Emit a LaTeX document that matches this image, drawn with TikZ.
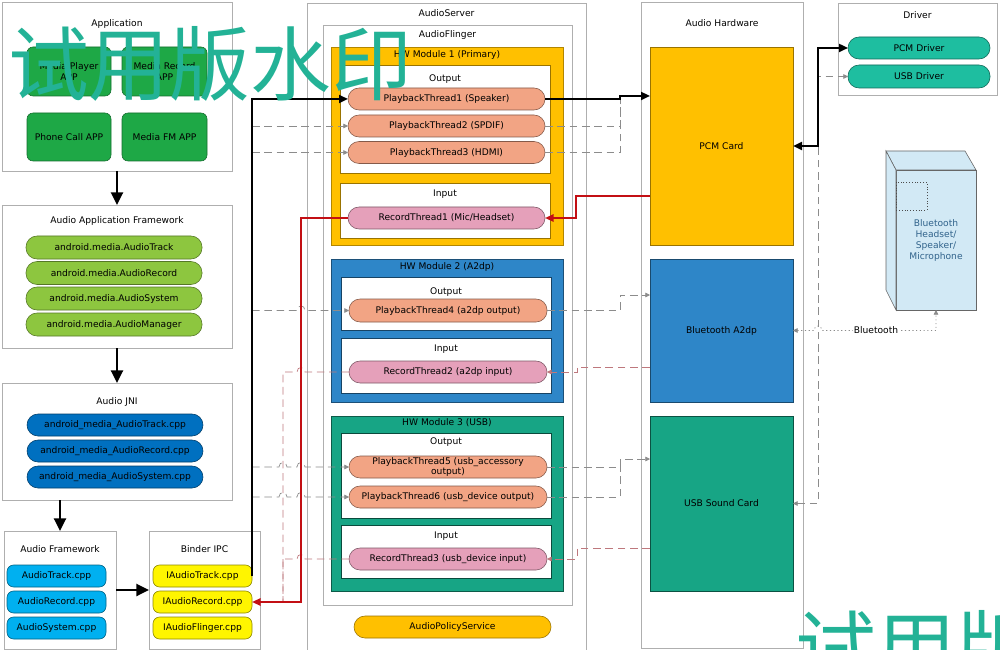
\documentclass[tikz,border=0pt]{standalone}
\usepackage{fontspec}
\setmainfont{DejaVu Sans}
\newfontfamily\cjkfont{Noto Sans CJK SC}
\usetikzlibrary{arrows.meta}

\definecolor{appgreen}{RGB}{30,168,70}
\definecolor{aafgreen}{RGB}{141,198,63}
\definecolor{jniblue}{RGB}{0,112,192}
\definecolor{afcyan}{RGB}{0,176,240}
\definecolor{binderyel}{RGB}{255,245,0}
\definecolor{hworange}{RGB}{255,192,0}
\definecolor{hwblue}{RGB}{46,134,200}
\definecolor{hwteal}{RGB}{23,165,133}
\definecolor{ptsalmon}{RGB}{242,164,132}
\definecolor{rtpink}{RGB}{229,160,186}
\definecolor{drvteal}{RGB}{30,190,160}
\definecolor{btface}{RGB}{210,233,245}
\definecolor{bttext}{RGB}{50,100,140}
\definecolor{boxgrey}{RGB}{175,175,175}
\definecolor{dashgrey}{RGB}{140,140,140}
\definecolor{recred}{RGB}{195,15,20}
\definecolor{recdash}{RGB}{190,120,125}
\definecolor{wmteal}{RGB}{35,178,150}

% line hops (left to right / right to left)
\newcommand{\hop}[2]{-- (#1-4,#2) .. controls (#1-4,#2-6) and (#1+4,#2-6) .. (#1+4,#2)}
\newcommand{\poh}[2]{-- (#1+4,#2) .. controls (#1+4,#2-6) and (#1-4,#2-6) .. (#1-4,#2)}

\begin{document}
\begin{tikzpicture}[x=0.03cm, y=-0.03cm,
    every node/.style={font=\fontsize{7.8}{9.4}\selectfont, inner sep=0pt, outer sep=0pt, align=center}]

    \path[use as bounding box, clip] (0,0) rectangle (1000,650);

    % Styles
    \tikzset{sz/.style 2 args={minimum width=#1*0.03cm, minimum height=#2*0.03cm}}
    \tikzstyle{cont_box} = [draw=boxgrey, line width=0.5pt, fill=white]
    \tikzstyle{app_btn} = [fill=appgreen, draw=appgreen!65!black, rounded corners=0.18cm, line width=0.5pt]
    \tikzstyle{pill} = [rounded corners=0.33cm, line width=0.5pt]
    \tikzstyle{cpp_pill} = [rounded corners=0.2cm, line width=0.5pt]
    \tikzstyle{hw_mod} = [line width=0.6pt]
    \tikzstyle{hw_card} = [line width=0.5pt]
    \tikzstyle{main_line} = [line width=2pt, black]
    \tikzstyle{down_arrow} = [line width=2pt, black, -{Triangle[length=0.38cm, width=0.36cm]}]
    \tikzstyle{rec_line} = [line width=1.6pt, recred]
    \tikzstyle{grey_dash} = [line width=0.6pt, dashgrey, dash pattern=on 6.5pt off 4pt]
    \tikzstyle{rec_dash} = [line width=0.6pt, recdash, dash pattern=on 6.5pt off 4pt]
    \tikzstyle{bt_dot} = [line width=0.6pt, dashgrey, dash pattern=on 1pt off 2.2pt]
    \tikzstyle{bt_face} = [fill=btface, draw=black!60, line width=0.5pt]
    \tikzstyle{watermark} = [font=\cjkfont\fontsize{69}{69}\selectfont, text=wmteal, anchor=west]
    \tikzset{bigtip/.tip={Triangle[length=0.27cm, width=0.24cm]},
             redtip/.tip={Triangle[length=0.26cm, width=0.22cm]},
             smalltip/.tip={Triangle[length=0.14cm, width=0.14cm]}}

    % Application
    \node[cont_box, sz={230}{169}] (app) at (117,86.5) {};
    \node (appT) at (117,24) {Application};
    \node[app_btn, sz={84}{49}] (mplayer) at (69,71.5) {Media Player\\APP};
    \node[app_btn, sz={85}{49}] (mrecord) at (164.5,71.5) {Media Record\\APP};
    \node[app_btn, sz={84}{48}] (phone) at (69,137) {Phone Call APP};
    \node[app_btn, sz={85}{48}] (fm) at (164.5,137) {Media FM APP};

    % Audio Application Framework
    \node[cont_box, sz={230}{143}] (aaf) at (117,276.5) {};
    \node (aafT) at (117,221) {Audio Application Framework};
    \node[pill, fill=aafgreen, draw=aafgreen!60!black, sz={176}{23}] (track) at (114,247.5) {android.media.AudioTrack};
    \node[pill, fill=aafgreen, draw=aafgreen!60!black, sz={176}{23}] (record) at (114,273) {android.media.AudioRecord};
    \node[pill, fill=aafgreen, draw=aafgreen!60!black, sz={176}{23}] (system) at (114,298.5) {android.media.AudioSystem};
    \node[pill, fill=aafgreen, draw=aafgreen!60!black, sz={176}{23}] (manager) at (114,324.5) {android.media.AudioManager};

    % Audio JNI
    \node[cont_box, sz={230}{117}] (jni) at (117,441.5) {};
    \node (jniT) at (117,402) {Audio JNI};
    \node[pill, fill=jniblue, draw=jniblue!55!black, sz={176}{22}] (jtrack) at (115,425) {android\_media\_AudioTrack.cpp};
    \node[pill, fill=jniblue, draw=jniblue!55!black, sz={176}{22}] (jrecord) at (115,451) {android\_media\_AudioRecord.cpp};
    \node[pill, fill=jniblue, draw=jniblue!55!black, sz={176}{22}] (jsystem) at (115,477) {android\_media\_AudioSystem.cpp};

    % Audio Framework and Binder IPC
    \node[cont_box, sz={112}{118}] (af) at (60,590) {};
    \node (afT) at (60,549) {Audio Framework};
    \node[cpp_pill, fill=afcyan, draw=afcyan!55!black, sz={99}{22}] (atrack) at (56.5,576) {AudioTrack.cpp};
    \node[cpp_pill, fill=afcyan, draw=afcyan!55!black, sz={99}{22}] (arecord) at (56.5,602) {AudioRecord.cpp};
    \node[cpp_pill, fill=afcyan, draw=afcyan!55!black, sz={99}{22}] (asystem) at (56.5,628) {AudioSystem.cpp};
    \node[cont_box, sz={111}{118}] (binder) at (204.5,590) {};
    \node (binderT) at (204.5,549) {Binder IPC};
    \node[cpp_pill, fill=binderyel, draw=binderyel!55!black, sz={99}{22}] (bat) at (202.5,576) {IAudioTrack.cpp};
    \node[cpp_pill, fill=binderyel, draw=binderyel!55!black, sz={99}{22}] (bar) at (202.5,602) {IAudioRecord.cpp};
    \node[cpp_pill, fill=binderyel, draw=binderyel!55!black, sz={99}{22}] (baf) at (202.5,628) {IAudioFlinger.cpp};

    % AudioServer / AudioFlinger
    \node[cont_box, sz={279}{657}] (server) at (446.5,331.5) {};
    \node (serverT) at (446.5,13) {AudioServer};
    \node[cont_box, sz={249}{580}] (flinger) at (447.5,315) {};
    \node (flingerT) at (447.5,35) {AudioFlinger};

    % HW Module 1
    \node[hw_mod, fill=hworange, draw=hworange!70!black, sz={232}{198}] (hw1) at (447,146) {};
    \node (hw1T) at (447,55) {HW Module 1 (Primary)};
    \node[cont_box, draw=hworange!60!black, sz={210}{108}] (out1) at (445,119) {};
    \node (out1T) at (445,79) {Output};
    \node[pill, fill=ptsalmon, draw=ptsalmon!55!black, sz={197}{22}] (pt1) at (446.5,99) {PlaybackThread1 (Speaker)};
    \node[pill, fill=ptsalmon, draw=ptsalmon!55!black, sz={197}{22}] (pt2) at (446.5,126) {PlaybackThread2 (SPDIF)};
    \node[pill, fill=ptsalmon, draw=ptsalmon!55!black, sz={197}{22}] (pt3) at (446.5,152.5) {PlaybackThread3 (HDMI)};
    \node[cont_box, draw=hworange!60!black, sz={210}{55}] (in1) at (445,210.5) {};
    \node (in1T) at (445,194) {Input};
    \node[pill, fill=rtpink, draw=rtpink!55!black, sz={197}{22}] (rt1) at (446.5,218) {RecordThread1 (Mic/Headset)};

    % HW Module 2
    \node[hw_mod, fill=hwblue, draw=hwblue!60!black, sz={232}{143}] (hw2) at (447,330.5) {};
    \node (hw2T) at (447,267) {HW Module 2 (A2dp)};
    \node[cont_box, draw=hwblue!50!black, sz={210}{53}] (out2) at (446,303.5) {};
    \node (out2T) at (446,292) {Output};
    \node[pill, fill=ptsalmon, draw=ptsalmon!55!black, sz={198}{23}] (pt4) at (448,310.5) {PlaybackThread4 (a2dp output)};
    \node[cont_box, draw=hwblue!50!black, sz={210}{55}] (in2) at (446,365.5) {};
    \node (in2T) at (446,349) {Input};
    \node[pill, fill=rtpink, draw=rtpink!55!black, sz={198}{22}] (rt2) at (448,372) {RecordThread2 (a2dp input)};

    % HW Module 3
    \node[hw_mod, fill=hwteal, draw=hwteal!55!black, sz={232}{175}] (hw3) at (447,503.5) {};
    \node (hw3T) at (447,423) {HW Module 3 (USB)};
    \node[cont_box, draw=hwteal!45!black, sz={210}{85}] (out3) at (446,475.5) {};
    \node (out3T) at (446,442) {Output};
    \node[pill, fill=ptsalmon, draw=ptsalmon!55!black, sz={198}{22}, font=\fontsize{7.8}{8.4}\selectfont] (pt5) at (448,467) {PlaybackThread5 (usb\_accessory\\output)};
    \node[pill, fill=ptsalmon, draw=ptsalmon!55!black, sz={198}{22}] (pt6) at (448,497) {PlaybackThread6 (usb\_device output)};
    \node[cont_box, draw=hwteal!45!black, sz={210}{53}] (in3) at (446,551.5) {};
    \node (in3T) at (446,536) {Input};
    \node[pill, fill=rtpink, draw=rtpink!55!black, sz={198}{22}] (rt3) at (448,559) {RecordThread3 (usb\_device input)};

    \node[pill, fill=hworange, draw=hworange!60!black, sz={197}{22}] (aps) at (452.5,627) {AudioPolicyService};

    % Audio Hardware
    \node[cont_box, sz={162}{646}] (hwbox) at (722,325) {};
    \node (hwboxT) at (722,23) {Audio Hardware};
    \node[hw_card, fill=hworange, draw=hworange!60!black, sz={143}{198}] (pcm) at (721.5,146) {PCM Card};
    \node[hw_card, fill=hwblue, draw=hwblue!55!black, sz={143}{143}] (bta2dp) at (721.5,330.5) {Bluetooth A2dp};
    \node[hw_card, fill=hwteal, draw=hwteal!50!black, sz={143}{175}] (usbcard) at (721.5,503.5) {USB Sound Card};

    % Driver
    \node[cont_box, sz={159}{92}] (drv) at (917.5,49) {};
    \node (drvT) at (917.5,15) {Driver};
    \node[pill, fill=drvteal, draw=drvteal!55!black, sz={142}{22}] (pcmdrv) at (919,48) {PCM Driver};
    \node[pill, fill=drvteal, draw=drvteal!55!black, sz={142}{23}] (usbdrv) at (919,76.5) {USB Driver};

    % Bluetooth device
    \node[bt_face, sz={80}{140}] (btdev) at (936,240) {};
    \draw[bt_face] (btdev.north west) -- ++(-10,-19) -- ++(79,0) -- (btdev.north east) -- cycle;
    \draw[bt_face] (btdev.north west) -- ++(-10,-19) -- ++(0,139) -- (btdev.south west) -- cycle;
    \draw[black!70, line width=0.5pt, dash pattern=on 0.8pt off 1.6pt] (btdev.north west) ++(0,12) rectangle ++(31,28);
    \node[text=bttext] (btTxt) at (btdev.center) {Bluetooth\\Headset/\\Speaker/\\Microphone};

    % Left stack arrows
    \draw[down_arrow] (app) -- (aaf);
    \draw[down_arrow] (aaf) -- (jni);
    \draw[down_arrow] (af.north |- jni.south) -- (af);
    \draw[down_arrow] (af) -- (binder);

    % Playback paths
    \coordinate (jPcm) at (620,96);
    \draw[grey_dash, -smalltip] (bat.east |- pt2.west) -- (pt2.west);
    \draw[grey_dash, -smalltip] (bat.east |- pt3.west) -- (pt3.west);
    \draw[grey_dash] (pt2.east) -| (jPcm |- pt1.east);
    \draw[grey_dash] (pt3.east) -| (jPcm |- pt1.east);
    \draw[grey_dash, -smalltip] (bat.east |- pt4.west) \hop{301}{310.5} -- (pt4.west);
    \draw[grey_dash, -smalltip] (bat.east |- pt5.west) \hop{283}{467} \hop{301}{467} -- (pt5.west);
    \draw[grey_dash, -smalltip] (bat.east |- pt6.west) \hop{283}{497} \hop{301}{497} -- (pt6.west);
    \coordinate (jBt) at (620,295);
    \draw[grey_dash, -smalltip] (pt4.east) -| (jBt) -- (jBt -| bta2dp.west);
    \coordinate (jUsb) at (620,459);
    \draw[grey_dash, -smalltip] (pt5.east) -| (jUsb) -- (jUsb -| usbcard.west);
    \draw[grey_dash] (pt6.east) -| (jUsb);
    \draw[main_line, -bigtip] (bat.east) |- (pt1.west);
    \draw[main_line, -bigtip] (pt1.east) -| (jPcm) -- (jPcm -| pcm.west);

    % Record paths
    \coordinate (jRecL) at (283,602);
    \draw[rec_dash] (rt2.west) \poh{301}{372} -| (jRecL);
    \draw[rec_dash] (rt3.west) \poh{301}{559} -| (jRecL);
    \coordinate (jBtIn) at (577,367);
    \draw[rec_dash, -smalltip] (jBtIn -| bta2dp.west) -- (jBtIn) |- (rt2.east);
    \coordinate (jUsbIn) at (577,548);
    \draw[rec_dash, -smalltip] (jUsbIn -| usbcard.west) -- (jUsbIn) |- (rt3.east);
    \coordinate (jRec) at (576,196);
    \draw[rec_line, -redtip] (jRec -| pcm.west) -- (jRec) |- (rt1.east);
    \draw[rec_line, -redtip] (rt1.west) -- ++(-47,0) |- (bar.east);

    % Drivers and Bluetooth link
    \draw[grey_dash, smalltip-smalltip] (usbcard.east) -- ++(25,0) |- (usbdrv.west);
    \draw[main_line, bigtip-bigtip] (pcm.east) -- ++(25,0) |- (pcmdrv.west);
    \draw[bt_dot, smalltip-smalltip] (bta2dp.east) \hop{818}{330.5} -| (btdev.south);
    \node[fill=white, inner sep=1pt] (btLbl) at (876,330.5) {Bluetooth};

    % Watermark
    \node[watermark] (wmTop) at (8,64) {试用版水印};
    \node[watermark] (wmBottom) at (795,648) {试用版水印};

\end{tikzpicture}
\end{document}
